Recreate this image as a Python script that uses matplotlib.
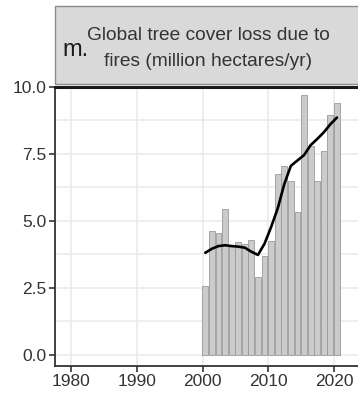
import matplotlib.pyplot as plt
from matplotlib.patches import Rectangle
import numpy as np

plt.rcParams['font.family'] = ['Liberation Sans', 'DejaVu Sans']

# annual tree cover loss due to fires, million ha/yr
years = np.arange(2000, 2021)
fire_loss = [2.58, 4.62, 4.56, 5.45, 4.10, 4.20, 4.15, 4.30, 2.92, 3.70, 4.25,
             6.75, 7.05, 6.50, 5.33, 9.70, 7.80, 6.50, 7.62, 8.95, 9.38]
# smoothed trend through the annual values
trend = [3.81, 3.96, 4.06, 4.09, 4.06, 4.04, 4.00, 3.85, 3.73, 4.15, 4.77,
         5.46, 6.37, 7.05, 7.25, 7.45, 7.82, 8.05, 8.30, 8.60, 8.85]

yticks = [0.0, 2.5, 5.0, 7.5, 10.0]
xticks = [1980, 1990, 2000, 2010, 2020]

fig = plt.figure(figsize=(3.58, 3.97), dpi=100)
ax = fig.add_axes([55 / 358, 1 - 366 / 397, 1 - 55 / 358, (366 - 86.7) / 397])

xpos = years + 0.4
ax.bar(xpos, fire_loss, width=0.88, color='#cbcbcb', edgecolor='#9a9a9a',
       linewidth=0.6, zorder=2)
ax.plot(xpos, trend, color='black', linewidth=1.9, solid_capstyle='round',
        solid_joinstyle='round', zorder=3)

ax.set_xlim(1977.57, 2023.6)
ax.set_ylim(-0.41, 10.0)
ax.set_xticks(xticks)
ax.set_yticks(yticks)
ax.set_yticklabels([f'{v:.1f}' for v in yticks])
ax.set_yticks(np.arange(1.25, 10, 2.5), minor=True)

ax.grid(True, which='major', color='#ebebeb', linewidth=1.2, zorder=0)
ax.grid(True, which='minor', axis='y', color='#ebebeb', linewidth=1.2, zorder=0)
ax.set_axisbelow(True)

for side in ['left', 'bottom']:
    ax.spines[side].set_color('#333333')
    ax.spines[side].set_linewidth(1.3)
ax.spines['right'].set_visible(False)
ax.spines['top'].set_color('#1a1a1a')
ax.spines['top'].set_linewidth(2.2)

ax.tick_params(axis='both', which='major', length=4, width=1.2, color='#333333',
               labelsize=12.5, labelcolor='#333333', pad=2)
ax.tick_params(axis='y', which='minor', length=0)

# facet strip above the panel
fig.patches.append(Rectangle((55 / 358, 1 - 84 / 397), 1.0, (84 - 6) / 397,
                             transform=fig.transFigure, facecolor='#d9d9d9',
                             edgecolor='#8c8c8c', linewidth=1.0, zorder=0))
fig.text(62 / 358, 1 - 50 / 397, 'm.', fontsize=17, color='#1a1a1a',
         ha='left', va='center')
fig.text(208 / 358, 1 - 35 / 397, 'Global tree cover loss due to',
         fontsize=13.8, color='#333333', ha='center', va='center')
fig.text(208 / 358, 1 - 62 / 397, 'fires (million hectares/yr)',
         fontsize=13.8, color='#333333', ha='center', va='center')

fig.savefig('out.png', dpi=100)
